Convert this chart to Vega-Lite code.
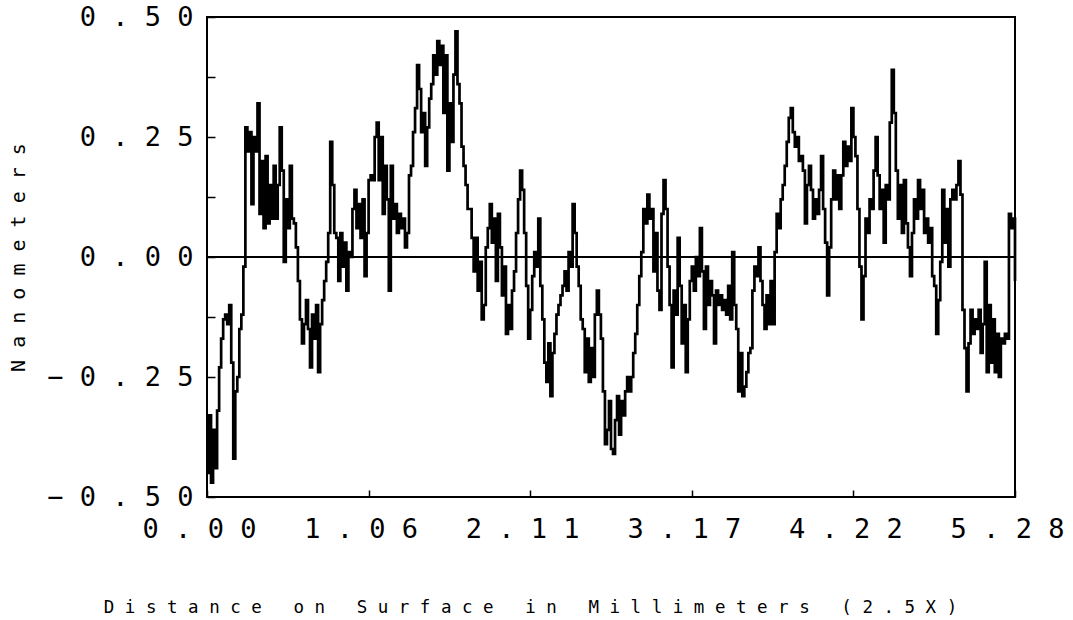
{
"$schema": "https://vega.github.io/schema/vega-lite/v6.json",
"width": 808, "height": 480,
"autosize": {"type": "none"},
"padding": {"left": 207, "top": 17, "right": 58, "bottom": 123},
"background": "white",
"config": {"view": {"stroke": "black", "strokeWidth": 2}, "font": "DejaVu Sans Mono"},
"layer": [
{"data": {"values": [
{"distance":0,"height":-0.45},{"distance":0.0132,"height":-0.33},{"distance":0.0264,"height":-0.47},{"distance":0.0396,"height":-0.36},{"distance":0.0528,"height":-0.44},{"distance":0.066,"height":-0.32},{"distance":0.0792,"height":-0.23},{"distance":0.0924,"height":-0.17},{"distance":0.1056,"height":-0.13},{"distance":0.1188,"height":-0.12},
{"distance":0.132,"height":-0.14},{"distance":0.1452,"height":-0.10},{"distance":0.1584,"height":-0.22},{"distance":0.1716,"height":-0.42},{"distance":0.1848,"height":-0.28},{"distance":0.198,"height":-0.25},{"distance":0.2112,"height":-0.15},{"distance":0.2244,"height":-0.12},{"distance":0.2376,"height":-0.02},{"distance":0.2508,"height":0.27},
{"distance":0.264,"height":0.22},{"distance":0.2772,"height":0.26},{"distance":0.2904,"height":0.11},{"distance":0.3036,"height":0.25},{"distance":0.3168,"height":0.22},{"distance":0.33,"height":0.32},{"distance":0.3432,"height":0.09},{"distance":0.3564,"height":0.20},{"distance":0.3696,"height":0.06},{"distance":0.3828,"height":0.21},
{"distance":0.396,"height":0.07},{"distance":0.4092,"height":0.15},{"distance":0.4224,"height":0.08},{"distance":0.4356,"height":0.19},{"distance":0.4488,"height":0.08},{"distance":0.462,"height":0.15},{"distance":0.4752,"height":0.27},{"distance":0.4884,"height":0.18},{"distance":0.5016,"height":-0.01},{"distance":0.5148,"height":0.12},
{"distance":0.528,"height":0.06},{"distance":0.5412,"height":0.19},{"distance":0.5544,"height":0.08},{"distance":0.5676,"height":0.07},{"distance":0.5808,"height":0.02},{"distance":0.594,"height":-0.05},{"distance":0.6072,"height":-0.13},{"distance":0.6204,"height":-0.18},{"distance":0.6336,"height":-0.14},{"distance":0.6468,"height":-0.09},
{"distance":0.66,"height":-0.15},{"distance":0.6732,"height":-0.23},{"distance":0.6864,"height":-0.12},{"distance":0.6996,"height":-0.17},{"distance":0.7128,"height":-0.10},{"distance":0.726,"height":-0.24},{"distance":0.7392,"height":-0.14},{"distance":0.7524,"height":-0.09},{"distance":0.7656,"height":-0.05},{"distance":0.7788,"height":-0.01},
{"distance":0.792,"height":0.05},{"distance":0.8052,"height":0.24},{"distance":0.8184,"height":0.15},{"distance":0.8316,"height":0.05},{"distance":0.8448,"height":0.04},{"distance":0.858,"height":-0.05},{"distance":0.8712,"height":0.05},{"distance":0.8844,"height":-0.02},{"distance":0.8976,"height":0.03},{"distance":0.9108,"height":-0.07},
{"distance":0.924,"height":0.01},{"distance":0.9372,"height":0.00},{"distance":0.9504,"height":0.10},{"distance":0.9636,"height":0.14},{"distance":0.9768,"height":0.06},{"distance":0.99,"height":0.11},{"distance":1.0032,"height":0.04},{"distance":1.0164,"height":0.12},{"distance":1.0296,"height":-0.04},{"distance":1.0428,"height":0.05},
{"distance":1.056,"height":0.16},{"distance":1.0692,"height":0.17},{"distance":1.0824,"height":0.16},{"distance":1.0956,"height":0.25},{"distance":1.1088,"height":0.28},{"distance":1.122,"height":0.16},{"distance":1.1352,"height":0.25},{"distance":1.1484,"height":0.09},{"distance":1.1616,"height":0.19},{"distance":1.1748,"height":0.12},
{"distance":1.188,"height":-0.07},{"distance":1.2012,"height":0.19},{"distance":1.2144,"height":0.08},{"distance":1.2276,"height":0.11},{"distance":1.2408,"height":0.05},{"distance":1.254,"height":0.09},{"distance":1.2672,"height":0.06},{"distance":1.2804,"height":0.08},{"distance":1.2936,"height":0.02},{"distance":1.3068,"height":0.05},
{"distance":1.32,"height":0.17},{"distance":1.3332,"height":0.19},{"distance":1.3464,"height":0.26},{"distance":1.3596,"height":0.31},{"distance":1.3728,"height":0.40},{"distance":1.386,"height":0.35},{"distance":1.3992,"height":0.26},{"distance":1.4124,"height":0.30},{"distance":1.4256,"height":0.19},{"distance":1.4388,"height":0.27},
{"distance":1.452,"height":0.33},{"distance":1.4652,"height":0.36},{"distance":1.4784,"height":0.42},{"distance":1.4916,"height":0.38},{"distance":1.5048,"height":0.45},{"distance":1.518,"height":0.40},{"distance":1.5312,"height":0.44},{"distance":1.5444,"height":0.30},{"distance":1.5576,"height":0.42},{"distance":1.5708,"height":0.18},
{"distance":1.584,"height":0.32},{"distance":1.5972,"height":0.24},{"distance":1.6104,"height":0.38},{"distance":1.6236,"height":0.47},{"distance":1.6368,"height":0.36},{"distance":1.65,"height":0.32},{"distance":1.6632,"height":0.23},{"distance":1.6764,"height":0.19},{"distance":1.6896,"height":0.15},{"distance":1.7028,"height":0.10},
{"distance":1.716,"height":0.10},{"distance":1.7292,"height":0.04},{"distance":1.7424,"height":-0.03},{"distance":1.7556,"height":0.04},{"distance":1.7688,"height":-0.07},{"distance":1.782,"height":-0.01},{"distance":1.7952,"height":-0.13},{"distance":1.8084,"height":-0.10},{"distance":1.8216,"height":0.02},{"distance":1.8348,"height":0.06},
{"distance":1.848,"height":0.11},{"distance":1.8612,"height":0.03},{"distance":1.8744,"height":0.08},{"distance":1.8876,"height":-0.05},{"distance":1.9008,"height":0.09},{"distance":1.914,"height":0.02},{"distance":1.9272,"height":-0.08},{"distance":1.9404,"height":-0.02},{"distance":1.9536,"height":-0.16},{"distance":1.9668,"height":-0.10},
{"distance":1.98,"height":-0.15},{"distance":1.9932,"height":-0.07},{"distance":2.0064,"height":-0.03},{"distance":2.0196,"height":0.05},{"distance":2.0328,"height":0.12},{"distance":2.046,"height":0.18},{"distance":2.0592,"height":0.14},{"distance":2.0724,"height":0.05},{"distance":2.0856,"height":-0.06},{"distance":2.0988,"height":-0.17},
{"distance":2.112,"height":-0.11},{"distance":2.1252,"height":-0.04},{"distance":2.1384,"height":0.01},{"distance":2.1516,"height":-0.02},{"distance":2.1648,"height":0.08},{"distance":2.178,"height":-0.06},{"distance":2.1912,"height":-0.13},{"distance":2.2044,"height":-0.22},{"distance":2.2176,"height":-0.26},{"distance":2.2308,"height":-0.18},
{"distance":2.244,"height":-0.29},{"distance":2.2572,"height":-0.20},{"distance":2.2704,"height":-0.16},{"distance":2.2836,"height":-0.12},{"distance":2.2968,"height":-0.10},{"distance":2.31,"height":-0.08},{"distance":2.3232,"height":-0.06},{"distance":2.3364,"height":-0.03},{"distance":2.3496,"height":-0.07},{"distance":2.3628,"height":0.01},
{"distance":2.376,"height":-0.02},{"distance":2.3892,"height":0.11},{"distance":2.4024,"height":0.05},{"distance":2.4156,"height":-0.02},{"distance":2.4288,"height":-0.06},{"distance":2.442,"height":-0.13},{"distance":2.4552,"height":-0.15},{"distance":2.4684,"height":-0.24},{"distance":2.4816,"height":-0.17},{"distance":2.4948,"height":-0.26},
{"distance":2.508,"height":-0.19},{"distance":2.5212,"height":-0.25},{"distance":2.5344,"height":-0.12},{"distance":2.5476,"height":-0.07},{"distance":2.5608,"height":-0.12},{"distance":2.574,"height":-0.17},{"distance":2.5872,"height":-0.28},{"distance":2.6004,"height":-0.39},{"distance":2.6136,"height":-0.36},{"distance":2.6268,"height":-0.30},
{"distance":2.64,"height":-0.40},{"distance":2.6532,"height":-0.41},{"distance":2.6664,"height":-0.34},{"distance":2.6796,"height":-0.29},{"distance":2.6928,"height":-0.37},{"distance":2.706,"height":-0.30},{"distance":2.7192,"height":-0.33},{"distance":2.7324,"height":-0.28},{"distance":2.7456,"height":-0.25},{"distance":2.7588,"height":-0.28},
{"distance":2.772,"height":-0.25},{"distance":2.7852,"height":-0.20},{"distance":2.7984,"height":-0.16},{"distance":2.8116,"height":-0.10},{"distance":2.8248,"height":-0.04},{"distance":2.838,"height":0.01},{"distance":2.8512,"height":0.10},{"distance":2.8644,"height":0.07},{"distance":2.8776,"height":0.13},{"distance":2.8908,"height":0.08},
{"distance":2.904,"height":0.10},{"distance":2.9172,"height":-0.03},{"distance":2.9304,"height":0.05},{"distance":2.9436,"height":-0.07},{"distance":2.9568,"height":-0.11},{"distance":2.97,"height":0.09},{"distance":2.9832,"height":0.16},{"distance":2.9964,"height":0.10},{"distance":3.0096,"height":-0.02},{"distance":3.0228,"height":-0.10},
{"distance":3.036,"height":-0.23},{"distance":3.0492,"height":-0.07},{"distance":3.0624,"height":-0.12},{"distance":3.0756,"height":0.04},{"distance":3.0888,"height":-0.06},{"distance":3.102,"height":-0.18},{"distance":3.1152,"height":-0.10},{"distance":3.1284,"height":-0.24},{"distance":3.1416,"height":-0.13},{"distance":3.1548,"height":-0.05},
{"distance":3.168,"height":-0.02},{"distance":3.1812,"height":-0.07},{"distance":3.1944,"height":0.00},{"distance":3.2076,"height":-0.04},{"distance":3.2208,"height":0.06},{"distance":3.234,"height":-0.03},{"distance":3.2472,"height":-0.15},{"distance":3.2604,"height":-0.02},{"distance":3.2736,"height":-0.10},{"distance":3.2868,"height":-0.05},
{"distance":3.3,"height":-0.08},{"distance":3.3132,"height":-0.18},{"distance":3.3264,"height":-0.07},{"distance":3.3396,"height":-0.10},{"distance":3.3528,"height":-0.08},{"distance":3.366,"height":-0.11},{"distance":3.3792,"height":-0.09},{"distance":3.3924,"height":-0.12},{"distance":3.4056,"height":-0.06},{"distance":3.4188,"height":-0.13},
{"distance":3.432,"height":0.01},{"distance":3.4452,"height":-0.10},{"distance":3.4584,"height":-0.15},{"distance":3.4716,"height":-0.28},{"distance":3.4848,"height":-0.20},{"distance":3.498,"height":-0.29},{"distance":3.5112,"height":-0.27},{"distance":3.5244,"height":-0.24},{"distance":3.5376,"height":-0.20},{"distance":3.5508,"height":-0.19},
{"distance":3.564,"height":-0.07},{"distance":3.5772,"height":-0.02},{"distance":3.5904,"height":-0.04},{"distance":3.6036,"height":0.02},{"distance":3.6168,"height":-0.05},{"distance":3.63,"height":-0.10},{"distance":3.6432,"height":-0.15},{"distance":3.6564,"height":-0.08},{"distance":3.6696,"height":-0.14},{"distance":3.6828,"height":-0.05},
{"distance":3.696,"height":-0.14},{"distance":3.7092,"height":0.01},{"distance":3.7224,"height":0.09},{"distance":3.7356,"height":0.06},{"distance":3.7488,"height":0.12},{"distance":3.762,"height":0.15},{"distance":3.7752,"height":0.19},{"distance":3.7884,"height":0.24},{"distance":3.8016,"height":0.29},{"distance":3.8148,"height":0.31},
{"distance":3.828,"height":0.26},{"distance":3.8412,"height":0.23},{"distance":3.8544,"height":0.25},{"distance":3.8676,"height":0.20},{"distance":3.8808,"height":0.21},{"distance":3.894,"height":0.18},{"distance":3.9072,"height":0.07},{"distance":3.9204,"height":0.15},{"distance":3.9336,"height":0.19},{"distance":3.9468,"height":0.14},
{"distance":3.96,"height":0.08},{"distance":3.9732,"height":0.12},{"distance":3.9864,"height":0.09},{"distance":3.9996,"height":0.14},{"distance":4.0128,"height":0.21},{"distance":4.026,"height":0.10},{"distance":4.0392,"height":0.03},{"distance":4.0524,"height":-0.08},{"distance":4.0656,"height":0.02},{"distance":4.0788,"height":0.12},
{"distance":4.092,"height":0.18},{"distance":4.1052,"height":0.12},{"distance":4.1184,"height":0.17},{"distance":4.1316,"height":0.10},{"distance":4.1448,"height":0.17},{"distance":4.158,"height":0.24},{"distance":4.1712,"height":0.19},{"distance":4.1844,"height":0.23},{"distance":4.1976,"height":0.20},{"distance":4.2108,"height":0.31},
{"distance":4.224,"height":0.25},{"distance":4.2372,"height":0.21},{"distance":4.2504,"height":0.10},{"distance":4.2636,"height":-0.02},{"distance":4.2768,"height":-0.13},{"distance":4.29,"height":-0.04},{"distance":4.3032,"height":0.08},{"distance":4.3164,"height":0.05},{"distance":4.3296,"height":0.12},{"distance":4.3428,"height":0.10},
{"distance":4.356,"height":0.18},{"distance":4.3692,"height":0.25},{"distance":4.3824,"height":0.17},{"distance":4.3956,"height":0.10},{"distance":4.4088,"height":0.14},{"distance":4.422,"height":0.03},{"distance":4.4352,"height":0.15},{"distance":4.4484,"height":0.12},{"distance":4.4616,"height":0.28},{"distance":4.4748,"height":0.39},
{"distance":4.488,"height":0.30},{"distance":4.5012,"height":0.18},{"distance":4.5144,"height":0.08},{"distance":4.5276,"height":0.15},{"distance":4.5408,"height":0.05},{"distance":4.554,"height":0.16},{"distance":4.5672,"height":0.07},{"distance":4.5804,"height":0.02},{"distance":4.5936,"height":-0.04},{"distance":4.6068,"height":0.05},
{"distance":4.62,"height":0.12},{"distance":4.6332,"height":0.08},{"distance":4.6464,"height":0.16},{"distance":4.6596,"height":0.10},{"distance":4.6728,"height":0.14},{"distance":4.686,"height":0.05},{"distance":4.6992,"height":0.08},{"distance":4.7124,"height":0.03},{"distance":4.7256,"height":0.06},{"distance":4.7388,"height":-0.04},
{"distance":4.752,"height":-0.06},{"distance":4.7652,"height":-0.16},{"distance":4.7784,"height":-0.09},{"distance":4.7916,"height":-0.01},{"distance":4.8048,"height":0.14},{"distance":4.818,"height":0.03},{"distance":4.8312,"height":0.10},{"distance":4.8444,"height":-0.02},{"distance":4.8576,"height":0.12},{"distance":4.8708,"height":0.14},
{"distance":4.884,"height":0.12},{"distance":4.8972,"height":0.15},{"distance":4.9104,"height":0.20},{"distance":4.9236,"height":0.13},{"distance":4.9368,"height":-0.11},{"distance":4.95,"height":-0.19},{"distance":4.9632,"height":-0.28},{"distance":4.9764,"height":-0.18},{"distance":4.9896,"height":-0.11},{"distance":5.0028,"height":-0.16},
{"distance":5.016,"height":-0.13},{"distance":5.0292,"height":-0.15},{"distance":5.0424,"height":-0.11},{"distance":5.0556,"height":-0.20},{"distance":5.0688,"height":-0.14},{"distance":5.082,"height":-0.01},{"distance":5.0952,"height":-0.24},{"distance":5.1084,"height":-0.10},{"distance":5.1216,"height":-0.22},{"distance":5.1348,"height":-0.13},
{"distance":5.148,"height":-0.24},{"distance":5.1612,"height":-0.16},{"distance":5.1744,"height":-0.25},{"distance":5.1876,"height":-0.17},{"distance":5.2008,"height":-0.18},{"distance":5.214,"height":-0.16},{"distance":5.2272,"height":-0.17},{"distance":5.2404,"height":0.09},{"distance":5.2536,"height":0.06},{"distance":5.2668,"height":0.08},
{"distance":5.28,"height":-0.05}
]},
"mark": {"type": "line", "interpolate": "step-after", "color": "black", "strokeWidth": 2.7},
"encoding": {
 "x": {"field": "distance", "type": "quantitative",
  "scale": {"domain": [0, 5.28], "nice": false, "zero": false},
  "axis": {"title": "D i s t a n c e\u00a0\u00a0\u00a0o n\u00a0\u00a0\u00a0S u r f a c e\u00a0\u00a0\u00a0i n\u00a0\u00a0\u00a0M i l l i m e t e r s\u00a0\u00a0\u00a0( 2 . 5 X )",
   "values": [0, 1.056, 2.112, 3.168, 4.224, 5.28],
   "labelExpr": "replace(format(datum.value, '.2f'), /(.)(?=.)/g, '$1 ')",
   "grid": false, "domain": false, "tickSize": -7, "tickColor": "black", "tickWidth": 1.5,
   "labelPadding": 26, "labelOffset": -8, "labelFlush": false, "labelOverlap": false, "labelBound": false,
   "labelFont": "DejaVu Sans Mono", "labelFontSize": 27, "labelColor": "black",
   "titleFont": "DejaVu Sans Mono", "titleFontSize": 17.5, "titleFontWeight": "normal", "titleColor": "black",
   "titleX": 323, "titleY": 115, "titleAlign": "center", "titleBaseline": "alphabetic", "titleAnchor": "start"}},
 "y": {"field": "height", "type": "quantitative",
  "scale": {"domain": [-0.5, 0.5], "nice": false},
  "axis": {"title": "N a n o m e t e r s",
   "values": [-0.5, -0.375, -0.25, -0.125, 0, 0.125, 0.25, 0.375, 0.5],
   "labelExpr": "abs(datum.value * 4 - round(datum.value * 4)) < 0.001 ? replace(format(datum.value, '.2f'), /(.)(?=.)/g, '$1 ') : ''",
   "grid": false, "domain": false, "tickSize": -8, "tickColor": "black", "tickWidth": 1.5,
   "labelPadding": 22, "labelFlush": false, "labelOverlap": false, "labelBound": false,
   "labelFont": "DejaVu Sans Mono", "labelFontSize": 27, "labelColor": "black",
   "titleFont": "DejaVu Sans Mono", "titleFontSize": 20, "titleFontWeight": "normal", "titleColor": "black",
   "titleX": -189, "titleY": 240, "titleAngle": -90, "titleAlign": "center", "titleBaseline": "middle"}}
}},
{"data": {"values": [{"level": 0}]},
 "mark": {"type": "rule", "color": "black", "strokeWidth": 2},
 "encoding": {"y": {"field": "level", "type": "quantitative"}}}
]
}
